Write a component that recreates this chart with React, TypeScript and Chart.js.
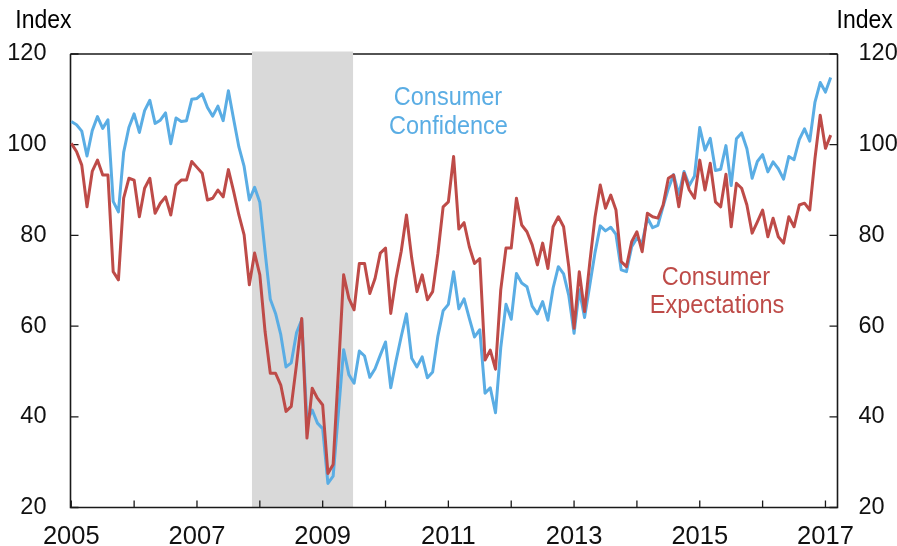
import { useEffect, useRef } from 'react';
import { Chart, registerables } from 'chart.js';

Chart.register(...registerables);

// Monthly data, Jan 2005 – Feb 2017 (index 0 = Jan 2005)
const CONSUMER_CONFIDENCE = [
  // 2005
  105.1, 104.4, 103.0, 97.5, 103.1, 106.2, 103.6, 105.5, 87.5, 85.2, 98.3, 103.8,
  // 2006
  106.8, 102.7, 107.5, 109.8, 104.7, 105.4, 107.0, 100.2, 105.9, 105.1, 105.3, 110.0,
  // 2007
  110.2, 111.2, 108.2, 106.3, 108.5, 105.3, 111.9, 105.6, 99.5, 95.2, 87.8, 90.6,
  // 2008
  87.3, 76.4, 65.9, 62.8, 58.1, 51.0, 51.9, 58.5, 61.4, 39.0, 41.5, 38.6,
  // 2009
  37.4, 25.3, 26.9, 40.8, 54.8, 49.3, 47.4, 54.5, 53.4, 48.7, 50.6, 53.6,
  // 2010
  56.5, 46.4, 52.3, 57.7, 62.7, 52.9, 51.0, 53.2, 48.6, 49.9, 57.8, 63.4,
  // 2011
  64.8, 72.0, 63.8, 66.0, 61.7, 57.6, 59.2, 45.2, 46.4, 40.9, 55.2, 64.8,
  // 2012
  61.5, 71.6, 69.5, 68.7, 64.4, 62.7, 65.4, 61.3, 68.4, 73.1, 71.5, 66.7,
  // 2013
  58.4, 68.0, 61.9, 69.0, 76.2, 82.1, 81.0, 81.8, 80.2, 72.4, 72.0, 77.5,
  // 2014
  79.4, 78.3, 83.9, 81.7, 82.2, 86.4, 90.3, 93.4, 89.0, 94.1, 91.0, 93.1,
  // 2015
  103.8, 98.8, 101.4, 94.3, 94.6, 99.8, 91.0, 101.3, 102.6, 99.1, 92.6, 96.3,
  // 2016
  97.8, 94.0, 96.2, 94.7, 92.4, 97.4, 96.7, 101.1, 103.5, 100.8, 109.4, 113.7,
  // 2017
  111.6, 114.8,
];

const CONSUMER_EXPECTATIONS = [
  // 2005
  100.3, 98.5, 95.5, 86.3, 94.1, 96.6, 93.3, 93.3, 72.0, 70.2, 88.2, 92.6,
  // 2006
  92.2, 84.1, 90.4, 92.6, 84.9, 87.1, 88.5, 84.5, 91.1, 92.2, 92.2, 96.3,
  // 2007
  95.0, 93.7, 87.8, 88.2, 90.0, 88.5, 94.5, 89.7, 84.5, 80.1, 69.1, 76.1,
  // 2008
  71.3, 58.8, 49.6, 49.6, 47.0, 41.2, 42.3, 51.5, 61.7, 35.3, 46.3, 44.1,
  // 2009
  42.6, 27.5, 29.5, 50.0, 71.3, 66.1, 63.6, 73.8, 73.8, 67.2, 70.5, 76.1,
  // 2010
  77.2, 62.8, 70.5, 76.5, 84.5, 75.0, 67.6, 71.3, 65.8, 67.6, 76.0, 86.3,
  // 2011
  87.4, 97.4, 81.4, 82.8, 77.5, 73.8, 74.9, 52.5, 54.7, 50.5, 68.0, 77.2,
  // 2012
  77.2, 88.2, 82.3, 80.8, 77.9, 73.5, 78.3, 72.7, 81.9, 84.1, 81.9, 73.0,
  // 2013
  59.5, 72.0, 63.2, 74.0, 84.0, 91.1, 86.0, 88.9, 85.6, 74.2, 73.1, 78.6,
  // 2014
  80.8, 76.4, 84.9, 84.1, 83.8, 86.7, 92.6, 93.3, 86.3, 93.7, 90.0, 88.2,
  // 2015
  96.6, 90.0, 95.9, 87.4, 86.3, 93.5, 81.9, 91.5, 90.4, 86.7, 80.5, 83.0,
  // 2016
  85.6, 79.7, 83.8, 79.7, 78.3, 84.1, 81.9, 86.7, 87.1, 85.6, 97.0, 106.5,
  // 2017
  99.2, 102.1,
];

const FIRST_YEAR = 2005;
const YEAR_TICKS = [2005, 2006, 2007, 2008, 2009, 2010, 2011, 2012, 2013, 2014, 2015, 2016, 2017];
const LABELED_YEARS = [2005, 2007, 2009, 2011, 2013, 2015, 2017];
const Y_TICKS = [20, 40, 60, 80, 100, 120];
// Recession (Dec 2007 – Jun 2009), in months since Jan 2005
const RECESSION_START = 34.5;
const RECESSION_END = 53.8;

const BLUE = '#5AADE4';
const RED = '#BE4B48';
const FONT = '"Liberation Sans", Arial, Helvetica, sans-serif';

const monthOf = (year: number) => (year - FIRST_YEAR) * 12;

function drawStretchedText(
  ctx: CanvasRenderingContext2D,
  text: string,
  x: number,
  y: number,
  align: CanvasTextAlign,
  size: number,
  color: string
) {
  ctx.save();
  ctx.translate(x, y);
  ctx.scale(1, 1.1);
  ctx.font = `${size}px ${FONT}`;
  ctx.textAlign = align;
  ctx.textBaseline = 'alphabetic';
  ctx.fillStyle = color;
  ctx.fillText(text, 0, 0);
  ctx.restore();
}

const framePlugin = {
  id: 'frame',
  beforeDatasetsDraw(chart: any) {
    const { ctx, chartArea: a, scales } = chart;
    const xs = scales.x;
    const ys = scales.y;
    ctx.save();
    ctx.strokeStyle = '#1a1a1a';
    ctx.lineWidth = 1.6;
    // top border
    ctx.beginPath();
    ctx.moveTo(a.left, a.top);
    ctx.lineTo(a.right, a.top);
    ctx.stroke();
    // recession shading
    const x0 = xs.getPixelForValue(RECESSION_START);
    const x1 = xs.getPixelForValue(RECESSION_END);
    ctx.fillStyle = '#d9d9d9';
    ctx.fillRect(x0, a.top - 2.5, x1 - x0, a.bottom - a.top + 2.5);
    // left, bottom, right borders
    ctx.beginPath();
    ctx.moveTo(a.left, a.top);
    ctx.lineTo(a.left, a.bottom);
    ctx.lineTo(a.right, a.bottom);
    ctx.lineTo(a.right, a.top);
    ctx.stroke();
    // inward tick marks
    ctx.lineWidth = 1.3;
    ctx.beginPath();
    for (const v of Y_TICKS) {
      const py = ys.getPixelForValue(v);
      ctx.moveTo(a.left, py);
      ctx.lineTo(a.left + 8, py);
      ctx.moveTo(a.right, py);
      ctx.lineTo(a.right - 8, py);
    }
    for (const yr of YEAR_TICKS) {
      const px = xs.getPixelForValue(monthOf(yr));
      ctx.moveTo(px, a.bottom);
      ctx.lineTo(px, a.bottom - 7);
    }
    ctx.stroke();
    ctx.restore();
  },
  afterDraw(chart: any) {
    const { ctx, chartArea: a } = chart;
    drawStretchedText(ctx, 'Index', a.left + 1, 27.5, 'right', 23, '#000');
    drawStretchedText(ctx, 'Index', a.right - 1, 27.5, 'left', 23, '#000');
    drawStretchedText(ctx, 'Consumer', 448, 104.5, 'center', 23.5, BLUE);
    drawStretchedText(ctx, 'Confidence', 448.5, 133.5, 'center', 23.5, BLUE);
    drawStretchedText(ctx, 'Consumer', 716, 284.5, 'center', 23.5, RED);
    drawStretchedText(ctx, 'Expectations', 717, 312.5, 'center', 23.5, RED);
  },
};

export default function App() {
  const canvasRef = useRef<HTMLCanvasElement | null>(null);

  useEffect(() => {
    const canvas = canvasRef.current;
    if (!canvas) return;
    const chart = new Chart(canvas, {
      type: 'line',
      data: {
        datasets: [
          {
            label: 'Consumer Expectations',
            data: CONSUMER_EXPECTATIONS.map((v, i) => ({ x: i, y: v })),
            borderColor: RED,
            borderWidth: 3,
            pointRadius: 0,
            tension: 0,
            borderJoinStyle: 'round',
            yAxisID: 'y',
          },
          {
            label: 'Consumer Confidence',
            data: CONSUMER_CONFIDENCE.map((v, i) => ({ x: i, y: v })),
            borderColor: BLUE,
            borderWidth: 3,
            pointRadius: 0,
            tension: 0,
            borderJoinStyle: 'round',
            yAxisID: 'y',
          },
        ],
      },
      options: {
        animation: false,
        responsive: false,
        maintainAspectRatio: false,
        layout: { padding: { top: 54, left: 0, right: 0, bottom: 0 } },
        plugins: { legend: { display: false }, tooltip: { enabled: false } },
        scales: {
          x: {
            type: 'linear',
            min: -0.15,
            max: 146.3,
            afterBuildTicks: (s: any) => {
              s.ticks = YEAR_TICKS.map((yr) => ({ value: monthOf(yr) }));
            },
            afterFit: (s: any) => {
              s.height = 38.5;
            },
            grid: { display: false, drawTicks: false },
            border: { display: false },
            ticks: {
              autoSkip: false,
              maxRotation: 0,
              padding: 14,
              color: '#111',
              font: { family: FONT, size: 25.5 },
              callback: (v: any) => {
                const yr = FIRST_YEAR + Number(v) / 12;
                return LABELED_YEARS.includes(yr) ? String(yr) : '';
              },
            },
          },
          y: {
            position: 'left',
            min: 20,
            max: 120,
            afterBuildTicks: (s: any) => {
              s.ticks = Y_TICKS.map((v) => ({ value: v }));
            },
            afterFit: (s: any) => {
              s.width = 70.5;
            },
            grid: { display: false, drawTicks: false },
            border: { display: false },
            ticks: {
              padding: 24,
              color: '#111',
              font: { family: FONT, size: 23.5 },
            },
          },
          y2: {
            position: 'right',
            display: true,
            min: 20,
            max: 120,
            afterBuildTicks: (s: any) => {
              s.ticks = Y_TICKS.map((v) => ({ value: v }));
            },
            afterFit: (s: any) => {
              s.width = 59.5;
            },
            grid: { display: false, drawTicks: false },
            border: { display: false },
            ticks: {
              padding: 21,
              color: '#111',
              font: { family: FONT, size: 23.5 },
            },
          },
        },
      },
      plugins: [framePlugin],
    } as any);
    return () => chart.destroy();
  }, []);

  return (
    <div style={{ position: 'fixed', left: 0, top: 0, width: 897, height: 546, background: '#fff' }}>
      <canvas ref={canvasRef} width={897} height={546} style={{ width: 897, height: 546, display: 'block' }} />
    </div>
  );
}
